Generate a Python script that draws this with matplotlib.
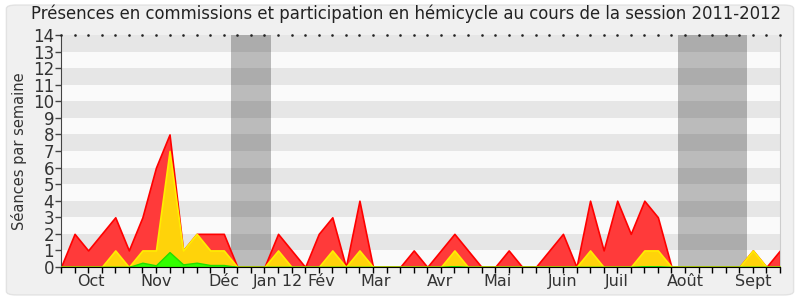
# -*- coding: utf-8 -*-
"""
Présences en commissions / hémicycle, session 2011-2012
Weekly areas: red = total, yellow = commissions, green = interventions
"""
import matplotlib
matplotlib.use('Agg')
import matplotlib.pyplot as plt
from matplotlib.patches import FancyBboxPatch

# ---- data (one value per week, 54 weeks) ----
weeks = list(range(54))
total = [0, 2, 1, 2, 3, 1, 3, 6, 8, 1, 2, 2, 2, 0, 0, 0, 2, 1, 0, 2,
         3, 0, 4, 0, 0, 0, 1, 0, 1, 2, 1, 0, 0, 1, 0, 0, 1, 2, 0, 4,
         1, 4, 2, 4, 3, 0, 0, 0, 0, 0, 0, 1, 0, 1]
commissions = [0, 0, 0, 0, 1, 0, 1, 1, 7, 1, 2, 1, 1, 0, 0, 0, 1, 0, 0, 0,
               1, 0, 1, 0, 0, 0, 0, 0, 0, 1, 0, 0, 0, 0, 0, 0, 0, 0, 0, 1,
               0, 0, 0, 1, 1, 0, 0, 0, 0, 0, 0, 1, 0, 0]
interventions = [0, 0, 0, 0, 0, 0, 0.26, 0.1, 0.9, 0.16, 0.26, 0.12, 0.12, 0, 0, 0, 0, 0, 0, 0,
                 0, 0, 0, 0, 0, 0, 0, 0, 0, 0.05, 0, 0, 0, 0, 0, 0, 0, 0, 0, 0,
                 0, 0, 0, 0.04, 0.04, 0, 0, 0, 0, 0, 0, 0, 0, 0]

# holiday periods (week index)
vacances = [(12.5, 15.5), (45.5, 50.6)]

month_labels = ["Oct", "Nov", "Déc", "Jan 12", "Fév", "Mar", "Avr", "Mai",
                "Juin", "Juil", "Août", "Sept"]
month_pos = [2.2, 7.0, 12.0, 16.0, 19.15, 23.2, 27.95, 32.2, 37.0, 41.0, 46.0, 51.0]

plt.rcParams['font.family'] = ['DejaVu Sans']

fig = plt.figure(figsize=(8, 3), dpi=100)
fig.patch.set_facecolor("white")
fig.patches.append(FancyBboxPatch((0.008, 0.017), 0.984, 0.966,
                                  boxstyle="round,pad=0,rounding_size=0.012",
                                  transform=fig.transFigure, facecolor="#f0f0f0",
                                  edgecolor="#e2e2e2", linewidth=1.0, zorder=-10))

ax = fig.add_axes([0.07625, 0.11, 0.89875, 0.7733])
ax.set_facecolor("#fafafa")

ymax = 14
# alternating bands
for k in range(ymax):
    if k % 2 == 1:
        ax.axhspan(k, k + 1, color="#e6e6e6", lw=0, zorder=0)

for a, b in vacances:
    ax.axvspan(a, b, color="black", alpha=0.25, lw=0, zorder=1)

# ---- areas ----
ax.fill_between(weeks, 0, total, facecolor="#ff3a3a", edgecolor="#ff0000",
                linewidth=1.2, zorder=2)
ax.fill_between(weeks, 0, commissions, facecolor="#ffd30a", edgecolor="#ffee00",
                linewidth=1.2, zorder=3)
ax.fill_between(weeks, 0, interventions, facecolor="#33ff00", edgecolor="#22dd00",
                linewidth=1.0, zorder=4)

# dotted top line
ax.plot(weeks, [ymax] * len(weeks), ls="none", marker="s", ms=0.8,
        color="#222222", zorder=5, clip_on=False)

ax.set_xlim(0, 53)
ax.set_ylim(0, ymax)

ax.set_yticks(range(ymax + 1))
ax.tick_params(axis="y", length=4, width=1, color="#444444",
               labelsize=12, labelcolor="#333333", pad=1)
ax.xaxis.remove_overlapping_locs = False
ax.set_xticks(weeks, [""] * len(weeks))
ax.tick_params(axis="x", which="major", length=4, width=1, color="black")
ax.set_xticks(month_pos, month_labels, minor=True)
ax.tick_params(axis="x", which="minor", length=0, pad=5,
               labelsize=11.5, labelcolor="#333333")

ax.spines["top"].set_visible(False)
ax.spines["right"].set_color("#cccccc")
ax.spines["left"].set_color("#444444")
ax.spines["bottom"].set_color("black")
ax.spines["bottom"].set_zorder(6)

ax.set_ylabel("Séances par semaine", fontsize=10.5, color="#333333", labelpad=4)

fig.text(0.508, 0.953, "Présences en commissions et participation en hémicycle au cours de la session 2011-2012",
         ha="center", va="center", fontsize=11.9, color="#222222")

fig.savefig("out.png", dpi=100)
plt.close(fig)
